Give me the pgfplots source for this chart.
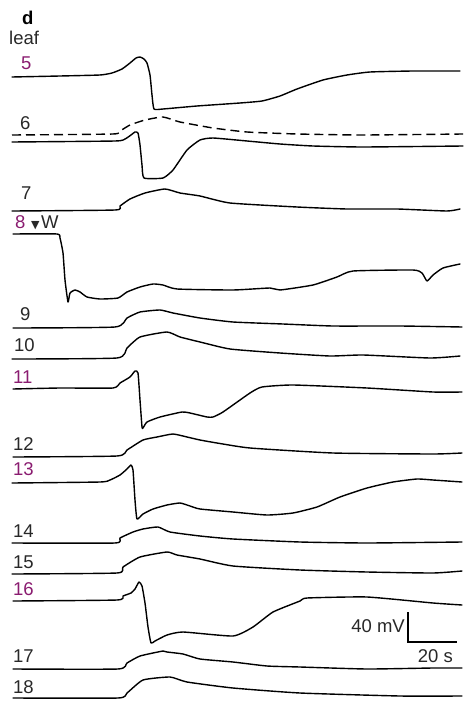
\documentclass[border=0pt]{standalone}
\usepackage{pgfplots}
\pgfplotsset{compat=1.18}
\usepackage{fontspec}
\setmainfont{Liberation Sans}
\newfontfamily\symfont{DejaVu Sans}
\definecolor{leafpurple}{RGB}{138,28,112}
\definecolor{labgray}{RGB}{40,40,40}
\tikzset{trace/.style={black, mark=none, line width=1.4bp, line join=round, line cap=round, smooth, tension=0.3}}
\begin{document}
\begin{tikzpicture}
\begin{axis}[
  width=465bp, height=702bp, scale only axis,
  xmin=0, xmax=465, ymin=0, ymax=702, y dir=reverse,
  hide axis, clip=false,
]
\addplot[draw=none, mark=none] coordinates {(0,0) (465,702)};
% leaf 5
\addplot[trace] coordinates {(12,77)(60,76)(100,75)(112,73)(122,69)(130,63)(136,58)(140,57)(144,59)(147,63)(150,75)(152,95)(154,109)(163,109)(197,106)(240,103)(262,101)(280,96)(297,89)(323,80)(347,75)(370,72)(413,71)(460,71)};
% leaf 6 dashed
\addplot[trace, line cap=butt, dash pattern=on 9bp off 5bp] coordinates {(12,135)(113,134)(120,131)(130,125)(145,120)(163,117)(180,122)(213,128)(247,132)(297,134)(363,135)(463,134)};
% leaf 6 solid
\addplot[trace] coordinates {(12,142)(115,141)(125,139)(131,135)(135,132)(138,133)(140,145)(142,165)(144,178)(163,178)(173,170)(187,150)(200,140)(213,138)(247,141)(280,144)(313,146)(363,147)(463,146)};
% leaf 7
\addplot[trace] coordinates {(12,211)(115,210)(120,206)(130,199)(145,193)(165,189)(180,193)(200,196)(230,203)(297,207)(347,209)(397,209)(447,211)(460,209)};
% leaf 8
\addplot[trace] coordinates {(13,234)(57,234)(60,238)(63,253)(65,280)(68,302)(70,293)(75,290)(80,292)(87,297)(100,299)(118,298)(127,292)(140,287)(153,284)(163,285)(177,289)(233,290)(270,288)(280,290)(313,285)(337,277)(353,271)(413,270)(422,273)(427,281)(433,275)(443,268)(460,264)};
% leaf 9
\addplot[trace] coordinates {(13,328)(115,327)(127,318)(140,312)(160,310)(173,313)(200,318)(233,322)(283,324)(333,326)(400,326)(462,327)};
% leaf 10
\addplot[trace] coordinates {(12,359)(117,358)(127,348)(140,337)(167,332)(180,337)(200,342)(230,349)(280,353)(330,356)(363,355)(430,358)(460,356)};
% leaf 11
\addplot[trace] coordinates {(13,389)(60,388)(113,388)(120,383)(130,377)(135,371)(138,373)(140,400)(142,427)(143,428)(147,422)(160,417)(182,412)(190,413)(207,417)(213,417)(223,412)(250,393)(262,387)(293,385)(367,388)(433,392)(462,392)};
% leaf 12
\addplot[trace] coordinates {(13,457)(117,456)(127,450)(143,440)(157,437)(173,434)(187,437)(200,440)(217,443)(250,448)(333,453)(433,454)(462,453)};
% leaf 13
\addplot[trace] coordinates {(12,483)(100,482)(110,480)(120,475)(127,469)(131,465)(133,470)(135,500)(137,519)(143,514)(153,509)(167,505)(180,503)(190,506)(200,509)(233,512)(267,515)(293,513)(317,507)(340,497)(367,488)(393,482)(417,479)(433,480)(462,482)};
% leaf 14
\addplot[trace] coordinates {(12,543)(115,543)(120,538)(133,532)(143,529)(158,527)(170,532)(200,536)(233,539)(300,542)(367,543)(462,542)};
% leaf 15
\addplot[trace] coordinates {(12,574)(117,573)(123,567)(140,557)(167,552)(177,555)(200,559)(233,566)(300,570)(367,572)(433,573)(462,571)};
% leaf 16
\addplot[trace] coordinates {(13,601)(117,600)(123,596)(131,593)(135,589)(139,582)(142,586)(145,603)(148,627)(151,643)(155,641)(167,635)(183,632)(233,636)(253,627)(273,612)(300,601)(307,598)(367,597)(433,603)(462,605)};
% leaf 17
\addplot[trace] coordinates {(13,669)(118,669)(127,663)(140,656)(163,651)(167,652)(183,654)(200,659)(233,662)(267,666)(300,667)(367,669)(433,668)(462,668)};
% leaf 18
\addplot[trace] coordinates {(13,698)(118,698)(127,693)(143,680)(170,677)(187,682)(233,688)(300,693)(400,696)(462,696)};
% scale bar
\addplot[black, mark=none, line width=2.6bp, line join=miter] coordinates {(408,612)(408,642)(457,642)};
% labels
\begin{scope}[every node/.style={anchor=base west, inner sep=0pt, font=\fontsize{18.5bp}{22bp}\selectfont}]
\node[anchor=base west] at (axis cs:22,25) {\bfseries d};
\node[labgray] at (axis cs:9,45) {leaf};
\node[leafpurple] at (axis cs:21,70) {5};
\node[labgray] at (axis cs:20,130) {6};
\node[labgray] at (axis cs:21,200) {7};
\node[leafpurple] at (axis cs:15,228) {8};
\node[labgray] at (axis cs:31,228) {{\symfont\fontsize{11bp}{12bp}\selectfont ▼}};
\node[labgray] at (axis cs:41,228) {W};
\node[labgray] at (axis cs:20,320) {9};
\node[labgray] at (axis cs:14,351) {10};
\node[leafpurple] at (axis cs:13,383) {11};
\node[labgray] at (axis cs:13,450) {12};
\node[leafpurple] at (axis cs:13,475) {13};
\node[labgray] at (axis cs:13,537) {14};
\node[labgray] at (axis cs:13,568) {15};
\node[leafpurple] at (axis cs:13,595) {16};
\node[labgray] at (axis cs:13,662) {17};
\node[labgray] at (axis cs:13,693) {18};
\node[labgray, anchor=base east] at (axis cs:405,632) {40 mV};
\node[labgray, anchor=base east] at (axis cs:453,662) {20 s};
\end{scope}
\end{axis}
\end{tikzpicture}
\end{document}
